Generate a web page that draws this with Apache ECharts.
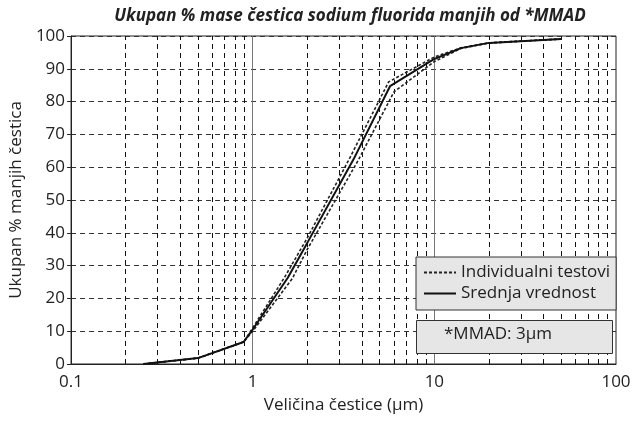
<!DOCTYPE html>
<html>
<head>
<meta charset="utf-8">
<script src="https://cdn.jsdelivr.net/npm/echarts@6/dist/echarts.min.js"></script>
<style>
  html, body { margin: 0; padding: 0; background: #fff; }
  #main { width: 634px; height: 421px; }
</style>
</head>
<body>
<div id="main"></div>
<script>
// particle size (µm) vs cumulative % smaller
var meanData = [[0.25, 0], [0.5, 1.8], [0.89, 6.7], [1.0, 10.5], [1.56, 26.3], [2, 37], [3.59, 62.4], [5.7, 84.7], [10, 93], [14, 96.3], [20, 97.9], [50, 99.1]];
var testA = [[0.25, 0], [0.5, 1.8], [0.89, 6.7], [1.0, 11], [1.5, 26.5], [2, 38.5], [3.4, 62.5], [5.6, 86], [10, 93.6], [14, 96.4], [20, 97.9], [50, 99.1]];
var testB = [[0.25, 0], [0.5, 1.8], [0.89, 6.7], [1.0, 10], [1.65, 26], [2, 35], [3.8, 62], [6, 83], [10, 92.2], [14, 96.2], [20, 97.9], [50, 99.1]];
var minorLines = [0.2, 0.3, 0.4, 0.5, 0.6, 0.7, 0.8, 0.9, 2, 3, 4, 5, 6, 7, 8, 9, 20, 30, 40, 50, 60, 70, 80, 90];
var majorLines = [1, 10];

var font = 'Open Sans';
var myChart = echarts.init(document.getElementById('main'));
myChart.setOption({
    animation: false,
    textStyle: { fontFamily: font },
    title: {
        text: 'Ukupan % mase čestica sodium fluorida manjih od *MMAD',
        left: 345, textAlign: 'center', top: 3,
        textStyle: { fontSize: 17, fontWeight: 'bold', fontStyle: 'italic', color: '#222', fontFamily: font }
    },
    grid: { left: 68, right: 18, top: 36, bottom: 57, show: true, borderColor: '#222', borderWidth: 1 },
    legend: {
        data: ['Individualni testovi', 'Srednja vrednost'],
        orient: 'vertical', left: 416, top: 257, z: 10,
        backgroundColor: '#e6e6e6', borderColor: '#333', borderWidth: 1,
        padding: [7, 6, 8, 7], itemGap: 4, itemWidth: 32, itemHeight: 14,
        itemStyle: { opacity: 0 },
        textStyle: { fontSize: 17, color: '#222', fontFamily: font }
    },
    xAxis: {
        type: 'log', logBase: 10, min: 0.1, max: 100,
        name: 'Veličina čestice (µm)', nameLocation: 'middle', nameGap: 33,
        nameTextStyle: { fontSize: 17, color: '#222' },
        axisLine: { lineStyle: { color: '#222' } },
        axisTick: { show: false },
        axisLabel: { fontSize: 17, color: '#222', margin: 10 },
        splitLine: { show: false }
    },
    yAxis: {
        type: 'value', min: 0, max: 100, interval: 10,
        name: 'Ukupan % manjih čestica', nameLocation: 'middle', nameGap: 45,
        nameTextStyle: { fontSize: 17, color: '#222' },
        axisLine: { show: true, lineStyle: { color: '#222' } },
        axisTick: { show: true, length: 4, lineStyle: { color: '#222' } },
        axisLabel: { fontSize: 17, color: '#222', margin: 6 },
        splitLine: { show: true, lineStyle: { color: '#333', type: [5, 4], width: 1 } }
    },
    graphic: [
        { type: 'rect', left: 416, top: 320, z: 100, shape: { width: 196, height: 33 }, style: { fill: '#e6e6e6', stroke: '#333', lineWidth: 1 } },
        { type: 'text', left: 444, top: 326, z: 101, style: { text: '*MMAD: 3µm', fontSize: 17, fontFamily: font, fill: '#222' } }
    ],
    series: [
        {
            type: 'line', data: [], silent: true, z: 1,
            markLine: {
                z: 1, symbol: 'none', silent: true, label: { show: false },
                lineStyle: { color: '#111', type: [5, 4], width: 1 },
                data: minorLines.map(function (v) { return { xAxis: v }; })
                    .concat(majorLines.map(function (v) { return { xAxis: v, lineStyle: { color: '#777', type: 'solid', width: 1 } }; }))
            }
        },
        {
            name: 'Individualni testovi', type: 'line', data: testA, symbol: 'none', z: 3,
            lineStyle: { color: '#222', width: 1.6, type: [3, 2] }, itemStyle: { color: '#222' }
        },
        {
            name: 'Individualni testovi', type: 'line', data: testB, symbol: 'none', z: 3,
            lineStyle: { color: '#222', width: 1.6, type: [3, 2] }, itemStyle: { color: '#222' }
        },
        {
            name: 'Srednja vrednost', type: 'line', data: meanData, symbol: 'none', z: 4,
            lineStyle: { color: '#111', width: 2 }, itemStyle: { color: '#111' }
        }
    ]
});
</script>
</body>
</html>
